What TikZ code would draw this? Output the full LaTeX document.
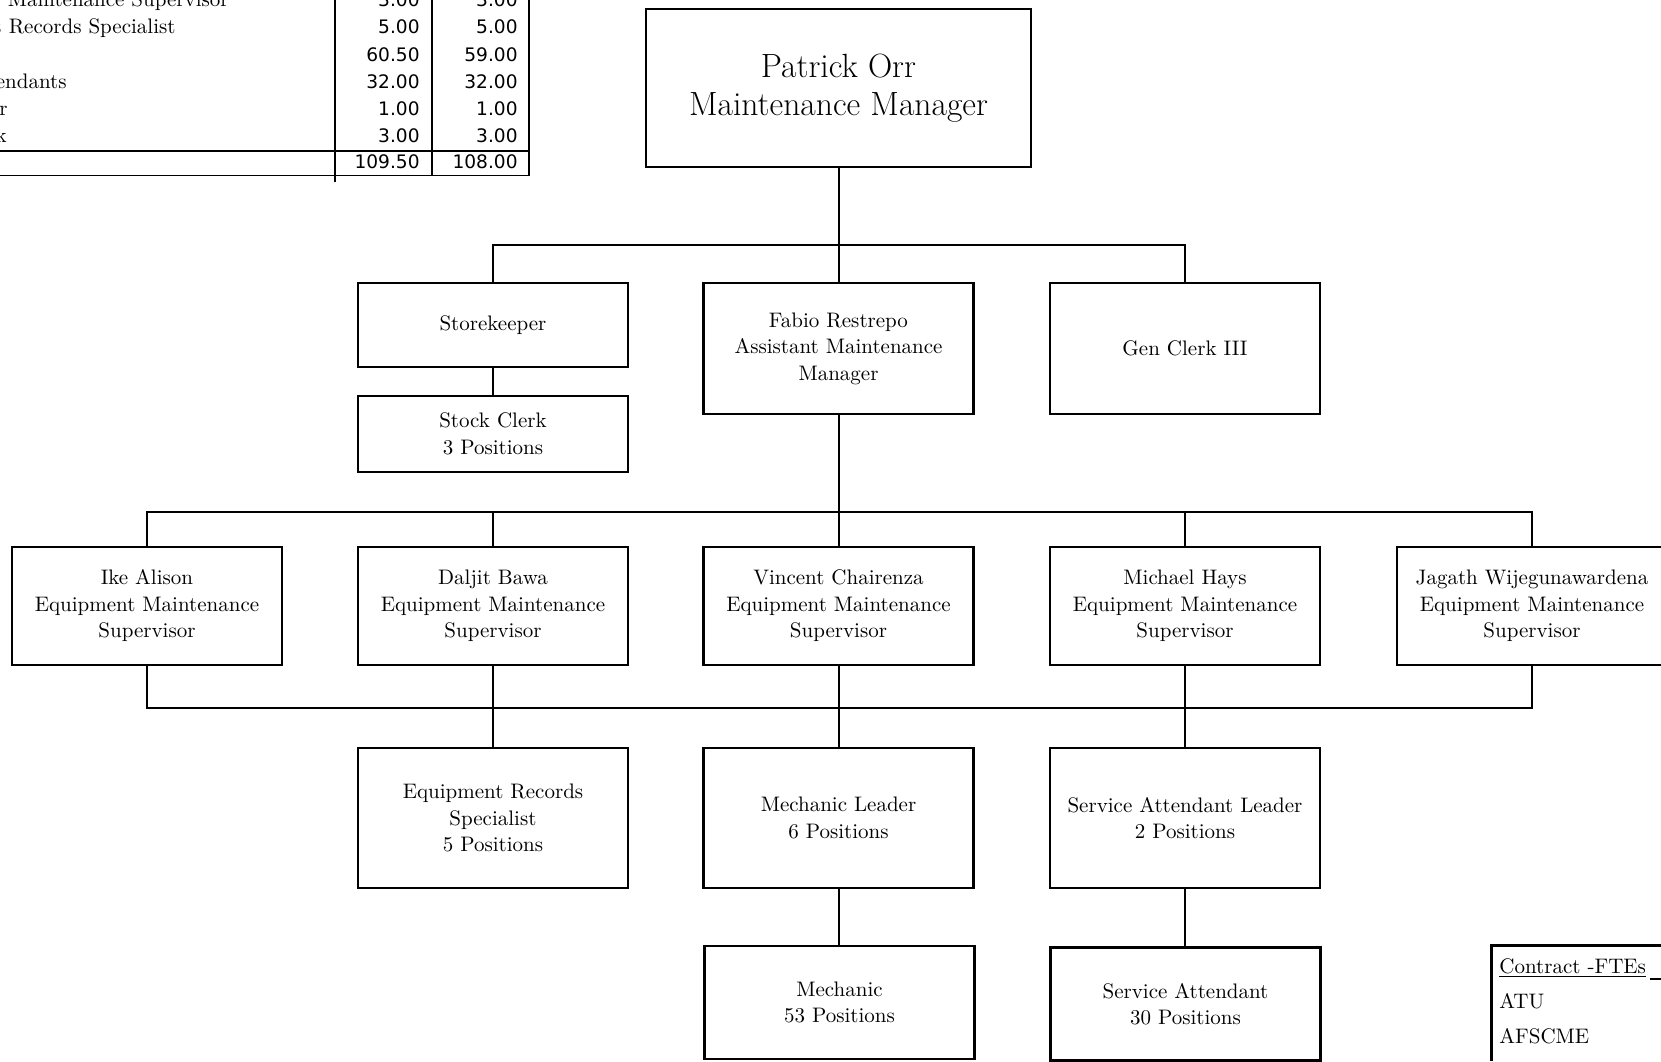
\documentclass[tikz,border=0pt]{standalone}
\usepackage{fontspec}
\usepackage{tikz}
\usetikzlibrary{positioning}
\newfontfamily\numfont{DejaVu Sans}

\tikzset{
  post/.style={draw, line width=1.2pt, align=center, minimum width=135pt,
    inner sep=2pt, font=\fontsize{10.5}{13.25}\selectfont},
  link/.style={line width=1pt},
  cell/.style={inner sep=0pt, anchor=base east, font=\numfont\fontsize{9.3}{11}\selectfont},
  txt/.style={inner sep=0pt, font=\fontsize{10.5}{13}\selectfont},
}

\begin{document}
\begin{tikzpicture}[x=0.5pt, y=-0.5pt]
    \useasboundingbox (0,0) rectangle (1661,1061);
    \clip (0,0) rectangle (1661,1061);

    % 1. Bảng FTE (góc trên trái)
    \draw[line width=1pt] (335,0) -- (335,182);
    \draw[line width=1pt] (432,0) -- (432,176);
    \draw[line width=1pt] (529,0) -- (529,176);
    \draw[line width=1.4pt] (0,151) -- (529,151);
    \draw[line width=0.8pt] (0,175.5) -- (529,175.5);
    \node[txt, anchor=base east] (l1) at (229,6) {Maintenance Supervisor};
    \node[txt, anchor=base east] (l2) at (176,33) {t Records Specialist};
    \node[txt, anchor=base east] (l4) at (67,88) {endants};
    \node[txt, anchor=base east] (l5) at (8,115) {r};
    \node[txt, anchor=base east] (l6) at (7,142) {k};
    \node[cell] (a1) at (420,6) {3.00};   \node[cell] (b1) at (518,6) {3.00};
    \node[cell] (a2) at (420,33) {5.00};  \node[cell] (b2) at (518,33) {5.00};
    \node[cell] (a3) at (420,61) {60.50}; \node[cell] (b3) at (518,61) {59.00};
    \node[cell] (a4) at (420,88) {32.00}; \node[cell] (b4) at (518,88) {32.00};
    \node[cell] (a5) at (420,115) {1.00}; \node[cell] (b5) at (518,115) {1.00};
    \node[cell] (a6) at (420,142) {3.00}; \node[cell] (b6) at (518,142) {3.00};
    \node[cell] (a7) at (420,168) {109.50}; \node[cell] (b7) at (518,168) {108.00};

    % 2. Các ô chức danh
    \node[post, minimum width=192.5pt, minimum height=79pt,
      font=\fontsize{16.8}{19}\selectfont] (boss) at (838.5,88) {Patrick Orr\\Maintenance Manager};

    \node[post, minimum height=42pt] (store) at (493,325) {Storekeeper};
    \node[post, minimum height=38pt] (stock) at (493,434) {Stock Clerk\\3 Positions};
    \node[post, minimum height=65.5pt] (asst) at (838.5,348.5) {Fabio Restrepo\\Assistant Maintenance\\Manager};
    \node[post, minimum height=65.5pt] (genclerk) at (1185,348.5) {Gen Clerk III};

    \node[post, minimum height=59pt] (sup1) at (147,606) {Ike Alison\\Equipment Maintenance\\Supervisor};
    \node[post, minimum height=59pt] (sup2) at (493,606) {Daljit Bawa\\Equipment Maintenance\\Supervisor};
    \node[post, minimum height=59pt] (sup3) at (838.5,606) {Vincent Chairenza\\Equipment Maintenance\\Supervisor};
    \node[post, minimum height=59pt] (sup4) at (1185,606) {Michael Hays\\Equipment Maintenance\\Supervisor};
    \node[post, minimum height=59pt] (sup5) at (1532,606) {Jagath Wijegunawardena\\Equipment Maintenance\\Supervisor};

    \node[post, minimum height=70pt] (recs) at (493,818) {Equipment Records\\Specialist\\5 Positions};
    \node[post, minimum height=70pt] (mechlead) at (838.5,818) {Mechanic Leader\\6 Positions};
    \node[post, minimum height=70pt] (servlead) at (1185,818) {Service Attendant Leader\\2 Positions};

    \node[post, minimum height=56.5pt] (mech) at (839.5,1002.5) {Mechanic\\53 Positions};
    \node[post, minimum height=56.5pt] (serv) at (1185.5,1004) {Service Attendant\\30 Positions};

    % 3. Các đường nối
    \coordinate (bus1) at (838.5,245);
    \coordinate (bus2) at (838.5,511.5);
    \coordinate (bus3) at (838.5,707.5);

    \draw[link] (boss) -- (asst);
    \draw[link] (store.north) |- (bus1) -| (genclerk.north);
    \draw[link] (store) -- (stock);

    \draw[link] (asst) -- (sup3);
    \draw[link] (sup1.north) |- (bus2) -| (sup5.north);
    \draw[link] (sup2.north) -- (sup2.north |- bus2);
    \draw[link] (sup4.north) -- (sup4.north |- bus2);

    \draw[link] (sup1.south) |- (bus3) -| (sup5.south);
    \draw[link] (sup2) -- (recs);
    \draw[link] (sup3) -- (mechlead);
    \draw[link] (sup4) -- (servlead);
    \draw[link] (mechlead.south) -- (mechlead.south |- mech.north);
    \draw[link] (servlead.south) -- (servlead.south |- serv.north);

    % 4. Ô Contract-FTEs (góc dưới phải)
    \draw[line width=1.2pt] (1491.5,1061) -- (1491.5,945.5) -- (1661,945.5);
    \node[txt, anchor=base west] (ct) at (1499,973) {\underline{Contract -FTEs}};
    \draw[line width=0.8pt] (1650,979) -- (1661,979);
    \node[txt, anchor=base west] (atu) at (1499,1008) {ATU};
    \node[txt, anchor=base west] (afs) at (1499,1043) {AFSCME};
\end{tikzpicture}
\end{document}
